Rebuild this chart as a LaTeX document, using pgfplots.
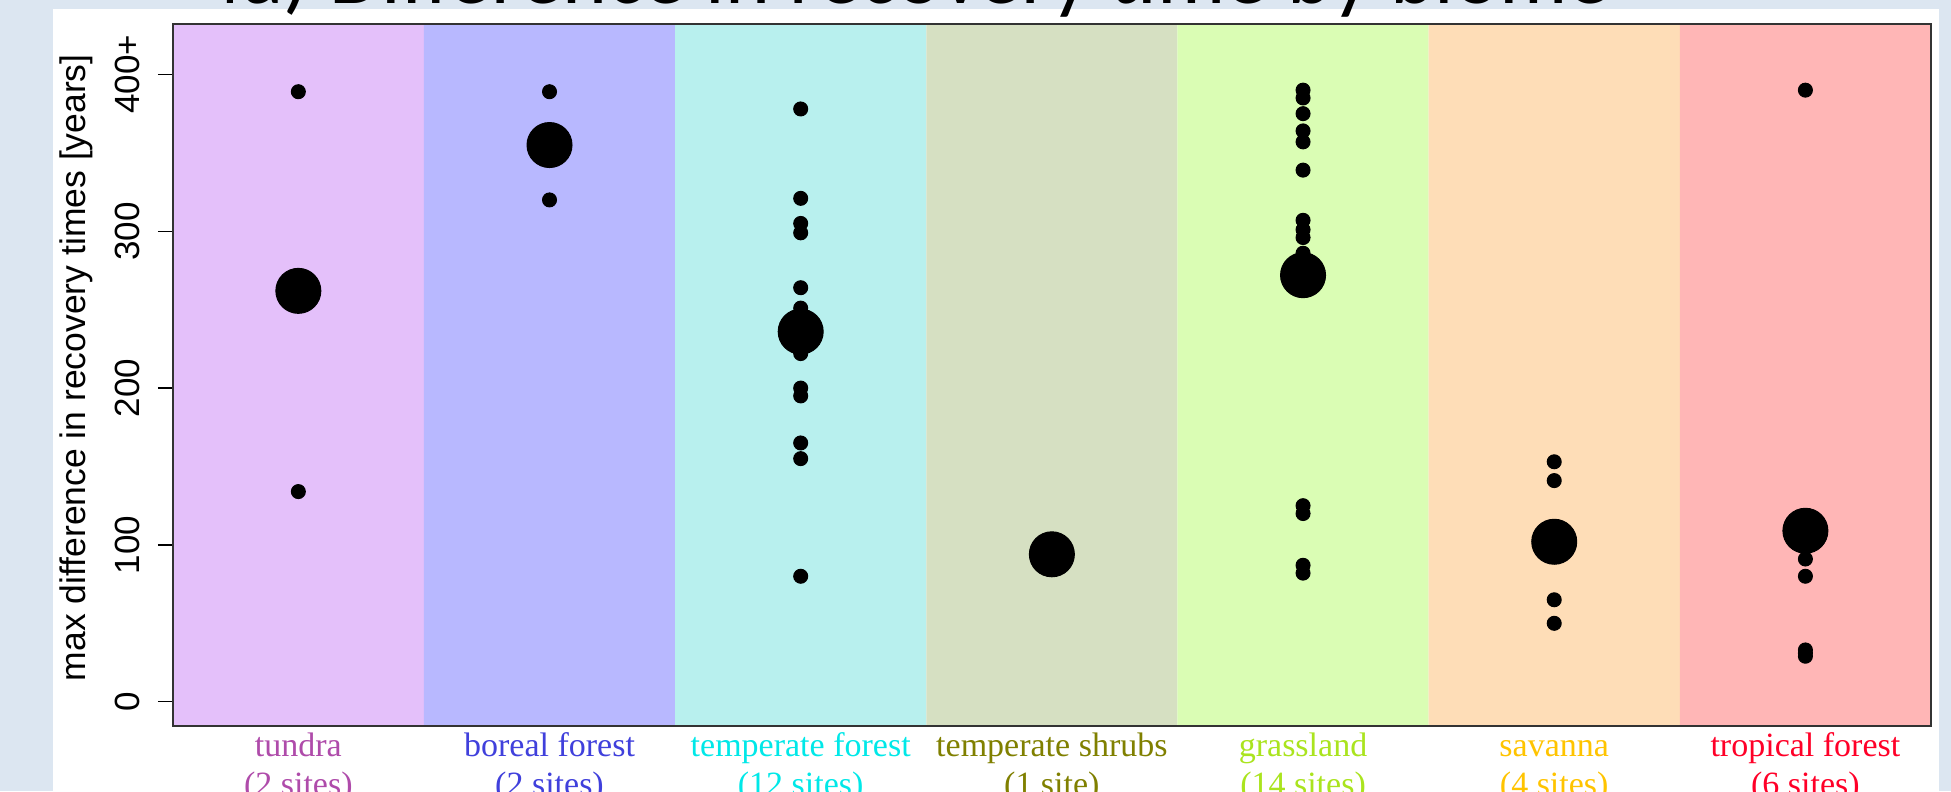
\documentclass[border=0pt]{standalone}
\usepackage{pgfplots}
\pgfplotsset{compat=1.18}
\usepackage{fontspec}
\setmainfont{Liberation Sans}
\newfontfamily\lserif{Liberation Serif}
\newfontfamily\carlito{Carlito}

\definecolor{bgblue}{RGB}{220,230,241}
\definecolor{bTun}{RGB}{228,192,250}
\definecolor{bBor}{RGB}{184,184,255}
\definecolor{bTmf}{RGB}{184,240,238}
\definecolor{bShr}{RGB}{214,224,194}
\definecolor{bGra}{RGB}{218,253,180}
\definecolor{bSav}{RGB}{254,221,183}
\definecolor{bTro}{RGB}{255,182,182}
\definecolor{lTun}{RGB}{175,75,170}
\definecolor{lBor}{RGB}{64,64,220}
\definecolor{lTmf}{RGB}{0,232,232}
\definecolor{lShr}{RGB}{128,128,0}
\definecolor{lGra}{RGB}{170,228,30}
\definecolor{lSav}{RGB}{255,196,0}
\definecolor{lTro}{RGB}{255,0,40}

\begin{document}
\begin{tikzpicture}
\useasboundingbox (0,0) rectangle (780.4pt,316.4pt);
\fill[bgblue] (0,0) rectangle (780.4pt,316.4pt);
\fill[white] (21.1pt,0) rectangle (775.6pt,312.8pt);
\begin{axis}[
  at={(69.1pt,26pt)}, anchor=south west,
  scale only axis, width=703.3pt, height=281pt,
  xmin=0.5, xmax=7.5, ymin=-15.5, ymax=432.5,
  axis on top,
  axis line style={black!80, line width=0.8pt},
  tick align=outside, tick pos=left,
  major tick length=5.9pt,
  xtick={1,2,3,4,5,6,7},
  xtick style={draw=none},
  xticklabels={
    {\textcolor{lTun}{tundra}\\\textcolor{lTun}{(2 sites)}},
    {\textcolor{lBor}{boreal forest}\\\textcolor{lBor}{(2 sites)}},
    {\textcolor{lTmf}{temperate forest}\\\textcolor{lTmf}{(12 sites)}},
    {\textcolor{lShr}{temperate shrubs}\\\textcolor{lShr}{(1 site)}},
    {\textcolor{lGra}{grassland}\\\textcolor{lGra}{(14 sites)}},
    {\textcolor{lSav}{savanna}\\\textcolor{lSav}{(4 sites)}},
    {\textcolor{lTro}{tropical forest}\\\textcolor{lTro}{(6 sites)}}},
  xticklabel style={anchor=base, align=center, yshift=-22pt, inner sep=0pt,
    font=\lserif\fontsize{13.6}{15.6}\selectfont},
  ytick={0,100,200,300,400},
  yticklabels={0,100,200,300,400+},
  ytick style={black, line width=0.6pt},
  yticklabel style={font=\fontsize{14}{14}\selectfont, rotate=90, anchor=south, inner sep=0pt},
  yticklabel shift=7pt,
  every axis y label/.style={at={(rel axis cs:0,0.51)}, xshift=-38.4pt, rotate=90, anchor=center},
  ylabel={max difference in recovery times [years]},
  ylabel style={font=\fontsize{14.2}{14.2}\selectfont},
]
% biome bands
\addplot[fill=bTun, draw=none] coordinates {(0.5,-20) (0.5,440) (1.5,440) (1.5,-20) (0.5,-20)};
\addplot[fill=bBor, draw=none] coordinates {(1.5,-20) (1.5,440) (2.5,440) (2.5,-20) (1.5,-20)};
\addplot[fill=bTmf, draw=none] coordinates {(2.5,-20) (2.5,440) (3.5,440) (3.5,-20) (2.5,-20)};
\addplot[fill=bShr, draw=none] coordinates {(3.5,-20) (3.5,440) (4.5,440) (4.5,-20) (3.5,-20)};
\addplot[fill=bGra, draw=none] coordinates {(4.5,-20) (4.5,440) (5.5,440) (5.5,-20) (4.5,-20)};
\addplot[fill=bSav, draw=none] coordinates {(5.5,-20) (5.5,440) (6.5,440) (6.5,-20) (5.5,-20)};
\addplot[fill=bTro, draw=none] coordinates {(6.5,-20) (6.5,440) (7.5,440) (7.5,-20) (6.5,-20)};
% individual sites
\addplot[only marks, mark=*, mark size=2.8pt, black] coordinates {
  (1,389) (1,134)
  (2,389) (2,320)
  (3,378) (3,321) (3,305) (3,299) (3,264) (3,251) (3,222) (3,200) (3,195) (3,165) (3,155) (3,80)
  (4,94)
  (5,390) (5,385) (5,375) (5,364) (5,357) (5,339) (5,307) (5,301) (5,296) (5,286) (5,125) (5,120) (5,87) (5,82)
  (6,153) (6,141) (6,65) (6,50)
  (7,390) (7,91) (7,80) (7,33) (7,31) (7,29)
};
% biome means
\addplot[only marks, mark=*, mark size=9pt, black] coordinates {
  (1,262) (2,355) (3,236) (4,94) (5,272) (6,102) (7,109)
};
\end{axis}
\node[anchor=base west, inner sep=0pt, font=\carlito\fontsize{34.2}{40}\selectfont] at (79.6pt,315.1pt) {4a) Difference in recovery time by biome};
\end{tikzpicture}
\end{document}
